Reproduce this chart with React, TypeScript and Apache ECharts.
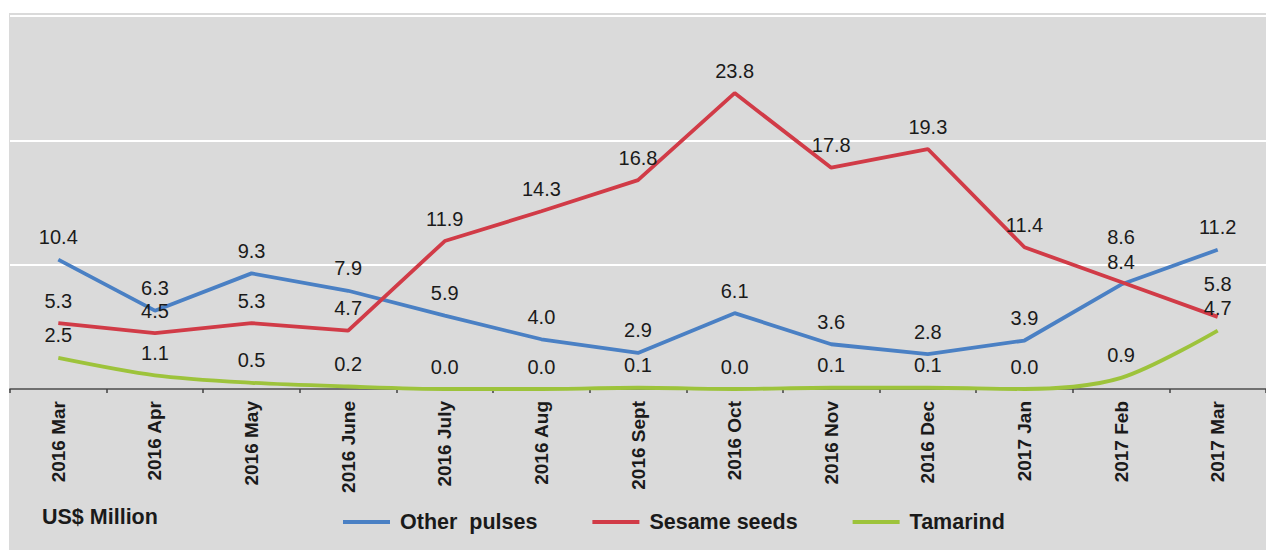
import React, { useEffect, useRef } from "react";
import * as echarts from "echarts";

const categories = [
  "2016 Mar", "2016 Apr", "2016 May", "2016 June", "2016 July", "2016 Aug",
  "2016 Sept", "2016 Oct", "2016 Nov", "2016 Dec", "2017 Jan", "2017 Feb", "2017 Mar",
];
const otherPulses = [10.4, 6.3, 9.3, 7.9, 5.9, 4.0, 2.9, 6.1, 3.6, 2.8, 3.9, 8.4, 11.2];
const sesameSeeds = [5.3, 4.5, 5.3, 4.7, 11.9, 14.3, 16.8, 23.8, 17.8, 19.3, 11.4, 8.6, 5.8];
const tamarind = [2.5, 1.1, 0.5, 0.2, 0.0, 0.0, 0.1, 0.0, 0.1, 0.1, 0.0, 0.9, 4.7];
const seriesNames = ["Other  pulses", "Sesame seeds", "Tamarind"];
const unitLabel = "US$ Million";

const FONT = "'Liberation Sans', Arial, sans-serif";
const COLORS = ["#4a80c4", "#d13b47", "#9dc33b"];

// extra upward shifts for a few labels (styling only)
const labelShift: Record<string, Record<number, number>> = {
  "Sesame seeds": { 11: -23, 12: -10 },
};

function buildData(name: string, values: number[]) {
  return values.map((v, i) => {
    const shift = labelShift[name]?.[i];
    if (shift) return { value: v, label: { offset: [0, shift] } };
    return v;
  });
}

export default function App() {
  const ref = useRef<HTMLDivElement>(null);
  useEffect(() => {
    if (!ref.current) return;
    const chart = echarts.init(ref.current, null, { renderer: "svg" });
    const valueSets = [otherPulses, sesameSeeds, tamarind];
    chart.setOption({
      animation: false,
      backgroundColor: "#ffffff",
      textStyle: { fontFamily: FONT },
      graphic: [
        {
          type: "rect",
          z: -10,
          silent: true,
          shape: { x: 9, y: 13, width: 1260, height: 537 },
          style: { fill: "#dadada" },
        },
        {
          type: "text",
          left: 42,
          top: 506,
          style: {
            text: unitLabel,
            font: `bold 21.5px ${FONT}`,
            fill: "#1a1a1a",
          },
        },
      ],
      grid: { left: 10, top: 16, width: 1265, height: 373, containLabel: false },
      xAxis: {
        type: "category",
        data: categories,
        boundaryGap: true,
        axisLine: { show: true, lineStyle: { color: "#404040", width: 1.5 } },
        axisTick: { show: true, length: 4, lineStyle: { color: "#404040", width: 1.5 } },
        axisLabel: {
          rotate: 90,
          margin: 12,
          fontSize: 19,
          fontWeight: "bold",
          fontFamily: FONT,
          color: "#1a1a1a",
          interval: 0,
        },
        splitLine: { show: false },
      },
      yAxis: {
        type: "value",
        min: 0,
        max: 30,
        interval: 10,
        axisLabel: { show: false },
        axisLine: { show: false },
        axisTick: { show: false },
        splitLine: { show: true, lineStyle: { color: "#ffffff", width: 2 } },
      },
      legend: {
        left: 343,
        top: 511,
        padding: 0,
        icon: "rect",
        itemWidth: 47,
        itemHeight: 4,
        itemGap: 55,
        textStyle: {
          fontSize: 21.5,
          fontWeight: "bold",
          fontFamily: FONT,
          color: "#1a1a1a",
          padding: [0, 0, 0, 5],
        },
        data: seriesNames,
      },
      series: seriesNames.map((name, i) => ({
        name,
        type: "line",
        data: buildData(name, valueSets[i]),
        color: COLORS[i],
        symbol: "circle",
        symbolSize: 0,
        showSymbol: true,
        smooth: i === 2 ? 0.3 : false,
        lineStyle: { width: 3.8, color: COLORS[i] },
        label: {
          show: true,
          position: "top",
          distance: 12.5,
          fontSize: 20,
          fontFamily: FONT,
          color: "#1a1a1a",
          formatter: (p: any) => Number(p.value).toFixed(1),
        },
        z: 3 + i,
      })),
    });
    return () => chart.dispose();
  }, []);
  return (
    <div
      ref={ref}
      style={{ position: "fixed", left: 0, top: 0, width: 1266, height: 553 }}
    />
  );
}
